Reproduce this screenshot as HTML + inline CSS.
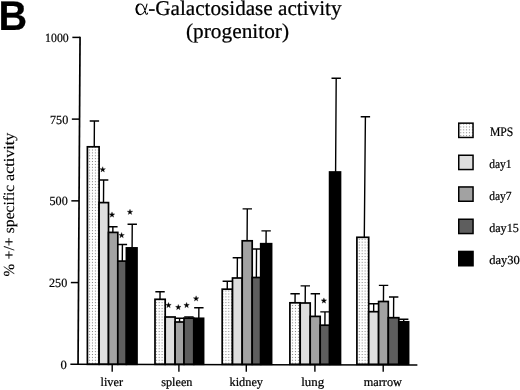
<!DOCTYPE html>
<html><head><meta charset="utf-8"><title>B</title>
<style>
html,body{margin:0;padding:0;background:#fff;}
svg{display:block;will-change:transform;font-family:"Liberation Serif",serif;fill:#000;text-rendering:geometricPrecision;}
text{stroke:#000;stroke-width:0.22px;}
text.yl{stroke-width:0.12px;}
</style></head>
<body>
<svg width="520" height="390" viewBox="0 0 520 390">
<defs>
<pattern id="dots" x="1.15" y="1.69" width="2.9" height="2.88" patternUnits="userSpaceOnUse">
<rect width="2.9" height="2.88" fill="#fff"/>
<rect x="0.9" y="0.95" width="1.05" height="1.0" fill="#858585"/>
</pattern>

</defs>
<rect width="520" height="390" fill="#fff"/>
<g transform="matrix(1 0.00000 0.00000 1 -0.0000 -0.0000)">
<path d="M94.25 146.80L94.40 121.00M89.70 121.00H99.10" stroke="#000" stroke-width="1.4" fill="none"/>
<path d="M103.50 202.60L103.64 180.00M98.94 180.00H108.34" stroke="#000" stroke-width="1.4" fill="none"/>
<path d="M112.85 232.40L112.88 226.70M108.18 226.70H117.58" stroke="#000" stroke-width="1.4" fill="none"/>
<path d="M122.30 261.10L122.40 244.50M117.70 244.50H127.10" stroke="#000" stroke-width="1.4" fill="none"/>
<path d="M132.10 247.90L132.24 224.20M127.54 224.20H136.94" stroke="#000" stroke-width="1.4" fill="none"/>
<rect x="87.40" y="146.80" width="11.70" height="217.50" fill="url(#dots)" stroke="#000" stroke-width="1.70"/>
<rect x="99.10" y="202.60" width="9.40" height="161.70" fill="#dedede" stroke="#000" stroke-width="1.70"/>
<rect x="108.50" y="232.40" width="9.30" height="131.90" fill="#a2a2a2" stroke="#000" stroke-width="1.70"/>
<rect x="117.80" y="261.10" width="8.60" height="103.20" fill="#5e5e5e" stroke="#000" stroke-width="1.70"/>
<rect x="126.40" y="247.90" width="10.60" height="116.40" fill="#000" stroke="#000" stroke-width="1.70"/>
<path d="M160.00 299.30L160.04 291.80M155.34 291.80H164.74" stroke="#000" stroke-width="1.4" fill="none"/>
<path d="M179.55 322.00L179.57 318.20M174.87 318.20H184.27" stroke="#000" stroke-width="1.4" fill="none"/>
<path d="M188.90 318.20L188.91 317.00M184.21 317.00H193.61" stroke="#000" stroke-width="1.4" fill="none"/>
<path d="M198.80 318.30L198.86 307.70M194.16 307.70H203.56" stroke="#000" stroke-width="1.4" fill="none"/>
<rect x="155.00" y="299.30" width="10.20" height="65.00" fill="url(#dots)" stroke="#000" stroke-width="1.70"/>
<rect x="165.20" y="317.00" width="9.90" height="47.30" fill="#dedede" stroke="#000" stroke-width="1.70"/>
<rect x="175.10" y="322.00" width="8.90" height="42.30" fill="#a2a2a2" stroke="#000" stroke-width="1.70"/>
<rect x="184.00" y="318.20" width="9.80" height="46.10" fill="#5e5e5e" stroke="#000" stroke-width="1.70"/>
<rect x="193.80" y="318.30" width="9.80" height="46.00" fill="#000" stroke="#000" stroke-width="1.70"/>
<path d="M227.25 289.20L227.30 281.20M222.60 281.20H232.00" stroke="#000" stroke-width="1.4" fill="none"/>
<path d="M237.25 278.00L237.37 257.70M232.67 257.70H242.07" stroke="#000" stroke-width="1.4" fill="none"/>
<path d="M247.10 240.80L247.29 208.90M242.59 208.90H251.99" stroke="#000" stroke-width="1.4" fill="none"/>
<path d="M256.35 277.50L256.52 249.00M251.82 249.00H261.22" stroke="#000" stroke-width="1.4" fill="none"/>
<path d="M266.05 243.70L266.13 230.90M261.43 230.90H270.83" stroke="#000" stroke-width="1.4" fill="none"/>
<rect x="222.20" y="289.20" width="10.30" height="75.10" fill="url(#dots)" stroke="#000" stroke-width="1.70"/>
<rect x="232.50" y="278.00" width="9.70" height="86.30" fill="#dedede" stroke="#000" stroke-width="1.70"/>
<rect x="242.20" y="240.80" width="10.00" height="123.50" fill="#a2a2a2" stroke="#000" stroke-width="1.70"/>
<rect x="252.20" y="277.50" width="8.50" height="86.80" fill="#5e5e5e" stroke="#000" stroke-width="1.70"/>
<rect x="260.70" y="243.70" width="10.90" height="120.60" fill="#000" stroke="#000" stroke-width="1.70"/>
<path d="M295.05 302.80L295.10 293.80M290.40 293.80H299.80" stroke="#000" stroke-width="1.4" fill="none"/>
<path d="M305.20 303.00L305.30 285.90M300.60 285.90H310.00" stroke="#000" stroke-width="1.4" fill="none"/>
<path d="M315.20 316.40L315.34 293.80M310.64 293.80H320.04" stroke="#000" stroke-width="1.4" fill="none"/>
<path d="M324.90 325.20L324.98 311.90M320.28 311.90H329.68" stroke="#000" stroke-width="1.4" fill="none"/>
<path d="M335.60 172.00L336.20 78.20M331.50 78.20H340.90" stroke="#000" stroke-width="1.4" fill="none"/>
<rect x="289.90" y="302.80" width="10.30" height="61.50" fill="url(#dots)" stroke="#000" stroke-width="1.70"/>
<rect x="300.20" y="303.00" width="10.00" height="61.30" fill="#dedede" stroke="#000" stroke-width="1.70"/>
<rect x="310.20" y="316.40" width="10.00" height="47.90" fill="#a2a2a2" stroke="#000" stroke-width="1.70"/>
<rect x="320.20" y="325.20" width="9.40" height="39.10" fill="#5e5e5e" stroke="#000" stroke-width="1.70"/>
<rect x="329.60" y="172.00" width="10.90" height="192.30" fill="#000" stroke="#000" stroke-width="1.70"/>
<path d="M364.30 237.30L365.40 116.80M360.70 116.80H370.10" stroke="#000" stroke-width="1.4" fill="none"/>
<path d="M373.65 311.70L373.70 303.80M369.00 303.80H378.40" stroke="#000" stroke-width="1.4" fill="none"/>
<path d="M383.45 301.50L383.55 285.40M378.85 285.40H388.25" stroke="#000" stroke-width="1.4" fill="none"/>
<path d="M393.55 317.70L393.67 297.00M388.97 297.00H398.37" stroke="#000" stroke-width="1.4" fill="none"/>
<path d="M403.70 321.80L403.72 319.20M399.02 319.20H408.42" stroke="#000" stroke-width="1.4" fill="none"/>
<rect x="356.90" y="237.30" width="11.80" height="127.00" fill="url(#dots)" stroke="#000" stroke-width="1.70"/>
<rect x="368.70" y="311.70" width="9.90" height="52.60" fill="#dedede" stroke="#000" stroke-width="1.70"/>
<rect x="378.60" y="301.50" width="9.70" height="62.80" fill="#a2a2a2" stroke="#000" stroke-width="1.70"/>
<rect x="388.30" y="317.70" width="10.50" height="46.60" fill="#5e5e5e" stroke="#000" stroke-width="1.70"/>
<rect x="398.80" y="321.80" width="9.80" height="42.50" fill="#000" stroke="#000" stroke-width="1.70"/>
<path d="M80.05 36.70L78.05 365.00" stroke="#000" stroke-width="1.7" fill="none"/>
<path d="M70.40 364.30L417.40 365.10" stroke="#000" stroke-width="1.5" fill="none"/>
<path d="M72.34 37.40H80.04" stroke="#000" stroke-width="1.5" fill="none"/>
<path d="M71.85 119.12H79.55" stroke="#000" stroke-width="1.5" fill="none"/>
<path d="M71.35 200.85H79.05" stroke="#000" stroke-width="1.5" fill="none"/>
<path d="M70.85 282.57H78.55" stroke="#000" stroke-width="1.5" fill="none"/>
<path d="M112.20 364.30V371.70" stroke="#000" stroke-width="1.4" fill="none"/>
<path d="M178.90 364.30V371.70" stroke="#000" stroke-width="1.4" fill="none"/>
<path d="M246.30 364.30V371.70" stroke="#000" stroke-width="1.4" fill="none"/>
<path d="M314.90 364.30V371.70" stroke="#000" stroke-width="1.4" fill="none"/>
<path d="M383.20 364.30V371.70" stroke="#000" stroke-width="1.4" fill="none"/>
<text x="68.69" y="41.80" font-size="12.60" text-anchor="end" textLength="23.6" lengthAdjust="spacingAndGlyphs">1000</text>
<text x="68.20" y="123.52" font-size="12.60" text-anchor="end" textLength="18.2" lengthAdjust="spacingAndGlyphs">750</text>
<text x="67.70" y="205.25" font-size="12.60" text-anchor="end" textLength="18.2" lengthAdjust="spacingAndGlyphs">500</text>
<text x="67.20" y="286.97" font-size="12.60" text-anchor="end" textLength="18.2" lengthAdjust="spacingAndGlyphs">250</text>
<text x="66.70" y="368.70" font-size="12.60" text-anchor="end">0</text>
<text x="100.50" y="386.00" font-size="12.30" text-anchor="start" textLength="22.5" lengthAdjust="spacingAndGlyphs">liver</text>
<text x="161.25" y="386.00" font-size="12.30" text-anchor="start" textLength="31.2" lengthAdjust="spacingAndGlyphs">spleen</text>
<text x="229.50" y="386.00" font-size="12.30" text-anchor="start" textLength="33.5" lengthAdjust="spacingAndGlyphs">kidney</text>
<text x="301.25" y="386.00" font-size="12.30" text-anchor="start" textLength="23.0" lengthAdjust="spacingAndGlyphs">lung</text>
<text x="363.75" y="386.00" font-size="12.30" text-anchor="start" textLength="38.2" lengthAdjust="spacingAndGlyphs">marrow</text>
<rect x="458.75" y="123.15" width="14.3" height="14.3" fill="url(#dots)" stroke="#000" stroke-width="1.5"/>
<text x="489.90" y="136.00" font-size="13.00" text-anchor="start" textLength="23.3" lengthAdjust="spacingAndGlyphs">MPS</text>
<rect x="458.75" y="155.25" width="14.3" height="14.3" fill="#dedede" stroke="#000" stroke-width="1.5"/>
<text x="489.20" y="167.90" font-size="12.30" text-anchor="start" textLength="22.4" lengthAdjust="spacingAndGlyphs">day1</text>
<rect x="458.75" y="186.95" width="14.3" height="14.3" fill="#a2a2a2" stroke="#000" stroke-width="1.5"/>
<text x="489.20" y="199.60" font-size="12.30" text-anchor="start" textLength="22.4" lengthAdjust="spacingAndGlyphs">day7</text>
<rect x="458.75" y="219.25" width="14.3" height="14.3" fill="#5e5e5e" stroke="#000" stroke-width="1.5"/>
<text x="489.20" y="231.90" font-size="12.30" text-anchor="start" textLength="29.6" lengthAdjust="spacingAndGlyphs">day15</text>
<rect x="458.75" y="251.45" width="14.3" height="14.3" fill="#000" stroke="#000" stroke-width="1.5"/>
<text x="489.20" y="264.10" font-size="12.30" text-anchor="start" textLength="30.6" lengthAdjust="spacingAndGlyphs">day30</text>
<g transform="translate(135.00 15.00)" fill="none" stroke="#000" stroke-linecap="round"><path d="M12.0 -10.9C11.0 -6.2 8.6 -0.4 5.4 -0.4C2.7 -0.4 1.1 -2.7 1.1 -5.7C1.1 -8.8 2.8 -11.0 5.6 -11.0C8.8 -11.0 9.7 -5.4 10.7 -1.9C11.2 -0.4 12.1 -0.1 12.6 -1.9" stroke-width="1.05"/><path d="M3.4 -1.4C1.7 -2.7 1.4 -5 1.5 -6.2C1.6 -8 2.2 -9.5 3.4 -10.3" stroke-width="1.8"/></g>
<text x="148.20" y="15.00" font-size="21.00" text-anchor="start" textLength="193.3" lengthAdjust="spacingAndGlyphs">-Galactosidase activity</text>
<text x="237.50" y="37.60" font-size="21.00" text-anchor="middle" textLength="103.0" lengthAdjust="spacingAndGlyphs">(progenitor)</text>
<text class="yl" transform="translate(13.80 276.60) rotate(-90)" font-size="15.3" textLength="12.6" lengthAdjust="spacingAndGlyphs">%</text>
<text class="yl" transform="translate(13.80 259.60) rotate(-90)" font-size="15.3" textLength="22.4" lengthAdjust="spacingAndGlyphs">+/+</text>
<text class="yl" transform="translate(13.80 233.20) rotate(-90)" font-size="15.3" textLength="48.4" lengthAdjust="spacingAndGlyphs">specific</text>
<text class="yl" transform="translate(13.80 181.00) rotate(-90)" font-size="15.3" textLength="48.3" lengthAdjust="spacingAndGlyphs">activity</text>
<text x="-1.50" y="30.20" font-family="Liberation Sans, sans-serif" font-weight="bold" font-size="41.5" stroke="#000" stroke-width="0.8" textLength="28.7" lengthAdjust="spacingAndGlyphs">B</text>
<path transform="translate(102.70 169.40)" d="M0.00 -2.70L0.68 -0.73L2.76 -0.70L1.09 0.56L1.70 2.55L0.00 1.35L-1.70 2.55L-1.09 0.56L-2.76 -0.70L-0.68 -0.73Z" fill="#000" stroke="#000" stroke-width="0.3" stroke-linejoin="round"/>
<path transform="translate(112.00 214.60)" d="M0.00 -2.70L0.68 -0.73L2.76 -0.70L1.09 0.56L1.70 2.55L0.00 1.35L-1.70 2.55L-1.09 0.56L-2.76 -0.70L-0.68 -0.73Z" fill="#000" stroke="#000" stroke-width="0.3" stroke-linejoin="round"/>
<path transform="translate(121.60 235.20)" d="M0.00 -2.70L0.68 -0.73L2.76 -0.70L1.09 0.56L1.70 2.55L0.00 1.35L-1.70 2.55L-1.09 0.56L-2.76 -0.70L-0.68 -0.73Z" fill="#000" stroke="#000" stroke-width="0.3" stroke-linejoin="round"/>
<path transform="translate(130.00 211.90)" d="M0.00 -2.70L0.68 -0.73L2.76 -0.70L1.09 0.56L1.70 2.55L0.00 1.35L-1.70 2.55L-1.09 0.56L-2.76 -0.70L-0.68 -0.73Z" fill="#000" stroke="#000" stroke-width="0.3" stroke-linejoin="round"/>
<path transform="translate(168.50 305.10)" d="M0.00 -2.70L0.68 -0.73L2.76 -0.70L1.09 0.56L1.70 2.55L0.00 1.35L-1.70 2.55L-1.09 0.56L-2.76 -0.70L-0.68 -0.73Z" fill="#000" stroke="#000" stroke-width="0.3" stroke-linejoin="round"/>
<path transform="translate(178.30 307.10)" d="M0.00 -2.70L0.68 -0.73L2.76 -0.70L1.09 0.56L1.70 2.55L0.00 1.35L-1.70 2.55L-1.09 0.56L-2.76 -0.70L-0.68 -0.73Z" fill="#000" stroke="#000" stroke-width="0.3" stroke-linejoin="round"/>
<path transform="translate(186.60 305.10)" d="M0.00 -2.70L0.68 -0.73L2.76 -0.70L1.09 0.56L1.70 2.55L0.00 1.35L-1.70 2.55L-1.09 0.56L-2.76 -0.70L-0.68 -0.73Z" fill="#000" stroke="#000" stroke-width="0.3" stroke-linejoin="round"/>
<path transform="translate(196.10 298.50)" d="M0.00 -2.70L0.68 -0.73L2.76 -0.70L1.09 0.56L1.70 2.55L0.00 1.35L-1.70 2.55L-1.09 0.56L-2.76 -0.70L-0.68 -0.73Z" fill="#000" stroke="#000" stroke-width="0.3" stroke-linejoin="round"/>
<path transform="translate(323.90 300.60)" d="M0.00 -2.70L0.68 -0.73L2.76 -0.70L1.09 0.56L1.70 2.55L0.00 1.35L-1.70 2.55L-1.09 0.56L-2.76 -0.70L-0.68 -0.73Z" fill="#000" stroke="#000" stroke-width="0.3" stroke-linejoin="round"/>
</g>
</svg>
</body></html>
